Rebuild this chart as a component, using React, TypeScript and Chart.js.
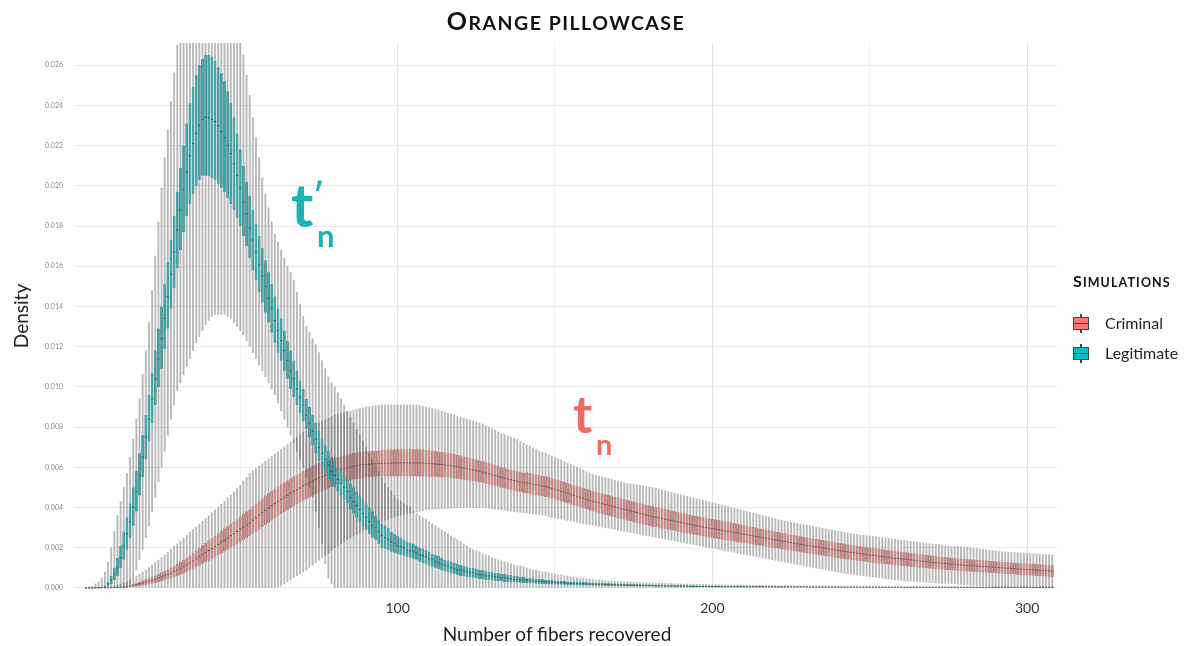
import React, { useEffect, useRef } from "react";
import { Chart, registerables } from "chart.js";

Chart.register(...registerables);

// Number of fibers recovered: one boxplot per integer starting at FIRST_FIBER
const FIRST_FIBER = 1;
// All density values below are written in units of 1e-4
const DENSITY_UNIT = 1e-4;

const Y_TICKS = [0, 0.002, 0.004, 0.006, 0.008, 0.01, 0.012, 0.014, 0.016, 0.018, 0.02, 0.022, 0.024, 0.026];
const X_TICKS = [50, 100, 150, 200, 250, 300];
const X_LABELLED = [100, 200, 300];

const SERIES_NAMES = ["Criminal", "Legitimate"];

// ---------- Legitimate (t'n) ----------
const legitimateLow = [
  0,0,0,0,0,0,0,0,0,0,
  0,0,0,0,2,5,9,14,19,25,
  31,38,45,53,60,68,76,84,91,98,
  102,106,110,114,118,122,125,128,131,133,
  135,136,136,136,136,135,134,132,130,128,
  126,123,120,117,114,111,108,105,102,99,
  96,92,88,84,80,76,72,68,64,60,
  55,50,45,38,30,22,12,5,2,0,
  0,0,0,0,0,0,0,0,0,0, 0,0,0,0,0,0,0,0,0,0,
  0,0,0,0,0,0,0,0,0,0, 0,0,0,0,0,0,0,0,0,0,
  0,0,0,0,0,0,0,0,0,0, 0,0,0,0,0,0,0,0,0,0,
  0,0,0,0,0,0,0,0,0,0, 0,0,0,0,0,0,0,0,0,0,
  0,0,0,0,0,0,0,0,0,0, 0,0,0,0,0,0,0,0,0,0,
  0,0,0,0,0,0,0,0,0,0, 0,0,0,0,0,0,0,0,0,0,
  0,0,0,0,0,0,0,0,0,0, 0,0,0,0,0,0,0,0,0,0,
  0,0,0,0,0,0,0,0,0,0, 0,0,0,0,0,0,0,0,0,0,
  0,0,0,0,0,0,0,0,0,0, 0,0,0,0,0,0,0,0,0,0,
  0,0,0,0,0,0,0,0,0,0, 0,0,0,0,0,0,0,0,0,0,
  0,0,0,0,0,0,0,0,0,0, 0,0,0,0,0,0,0,0,0,0,
  0,0,0,0,0,0,0,0,
];

const legitimateQ1 = [
  0,0,0,0,0.1,0.2,0.5,1,2,4,
  6,10,14,19,25,31,38,46,55,64,
  73,82,91,100,109,119,129,139,149,159,
  168,177,185,191,196,200,203,205,205,205,
  204,203,201,199,197,194,191,188,184,180,
  175,170,164,158,153,147,142,137,132,127,
  122,117,113,108,104,99,95,91,87,83,
  79,75,71,67,63,60,57,54,52,50,
  48,46,44,42,39,37,35,33,31,29,
  27,25,24,22,20,19.5,19,18,17.5,17,
  16.5,16,15.5,15,14.5,14,13,12.5,12,11,
  10.5,10,9.5,9,8.5,8,7.5,7,6.5,6,
  6,5.5,5.5,5,5,4.5,4.5,4,4,4,
  3.5,3.5,3.5,3,3,3,3,2.8,2.6,2.5,
  2.5,2.4,2.3,2.2,2.1,2,2,1.9,1.8,1.8,
  1.7,1.7,1.6,1.6,1.5,1.5,1.5,1.4,1.4,1.3,
  1.3,1.3,1.2,1.2,1.2,1.1,1.1,1.1,1,1,
  1,1,0.9,0.9,0.9,0.9,0.8,0.8,0.8,0.8,
  0.8,0.7,0.7,0.7,0.7,0.7,0.6,0.6,0.6,0.6,
  0.6,0.6,0.5,0.5,0.5,0.5,0.5,0.5,0.5,0.5,
  0.45,0.45,0.45,0.45,0.45,0.45,0.45,0.45,0.45,0.45,
  0.4,0.4,0.4,0.4,0.4,0.4,0.4,0.4,0.4,0.4,
  0.4,0.4,0.4,0.4,0.4,0.4,0.4,0.4,0.4,0.4,
  0.35,0.35,0.35,0.35,0.35,0.35,0.35,0.35,0.35,0.35,
  0.3,0.3,0.3,0.3,0.3,0.3,0.3,0.3,0.3,0.3,
  0.3,0.3,0.3,0.3,0.3,0.3,0.3,0.3,0.3,0.3,
  0.25,0.25,0.25,0.25,0.25,0.25,0.25,0.25,0.25,0.25,
  0.25,0.25,0.25,0.25,0.25,0.25,0.25,0.25,0.25,0.25,
  0.2,0.2,0.2,0.2,0.2,0.2,0.2,0.2,0.2,0.2,
  0.2,0.2,0.2,0.2,0.2,0.2,0.2,0.2,0.2,0.2,
  0.15,0.15,0.15,0.15,0.15,0.15,0.15,0.15,
];

const legitimateMedian = [
  0,0,0,0,0.1,0.3,0.7,2,4,7,
  10,15,21,27,33,40,48,56,65,75,
  84,94,104,114,124,134,145,156,167,178,
  188,198,207,215,221,226,230,233,234,234,
  233,232,230,227,224,220,216,211,205,199,
  192,186,179,173,167,161,155,150,144,139,
  133,128,123,118,113,108,104,99,95,91,
  86,82,78,74,70,67,64,61,58,56,
  54,52,50,48,45,43,41,39,37,35,
  33,31,30,28,26,25,24,23,22,21,
  20.5,20,19,18.5,18,17.5,16.5,16,15.5,14.5,
  14,13,12.5,12,11.5,11,10,9.5,9,9,
  8.5,8,7.5,7.5,7,6.5,6.5,6,6,6,
  5.5,5.5,5,5,4.8,4.6,4.4,4.2,4,4,
  3.8,3.6,3.5,3.4,3.3,3.2,3,3,2.9,2.7,
  2.6,2.6,2.5,2.4,2.3,2.2,2.2,2.1,2.1,2,
  2,1.9,1.9,1.8,1.8,1.7,1.7,1.6,1.6,1.5,
  1.5,1.5,1.4,1.4,1.4,1.3,1.3,1.2,1.2,1.2,
  1.2,1.1,1.1,1.1,1,1,1,0.9,0.9,0.9,
  0.9,0.9,0.8,0.8,0.8,0.8,0.8,0.8,0.7,0.7,
  0.7,0.7,0.7,0.65,0.65,0.65,0.65,0.65,0.6,0.6,
  0.6,0.6,0.6,0.6,0.6,0.6,0.6,0.6,0.6,0.6,
  0.55,0.55,0.55,0.55,0.55,0.55,0.55,0.55,0.55,0.55,
  0.45,0.45,0.45,0.45,0.45,0.45,0.45,0.45,0.45,0.45,
  0.4,0.4,0.4,0.4,0.4,0.4,0.4,0.4,0.4,0.4,
  0.35,0.35,0.35,0.35,0.35,0.35,0.35,0.35,0.35,0.35,
  0.3,0.3,0.3,0.3,0.3,0.3,0.3,0.3,0.3,0.3,
  0.3,0.3,0.3,0.3,0.3,0.3,0.3,0.3,0.3,0.3,
  0.25,0.25,0.25,0.25,0.25,0.25,0.25,0.25,0.25,0.25,
  0.25,0.25,0.25,0.25,0.25,0.25,0.25,0.25,0.25,0.25,
  0.22,0.22,0.22,0.22,0.22,0.22,0.22,0.22,
];

const legitimateQ3 = [
  0,0,0,0.1,0.2,0.5,1,3,6,10,
  15,21,28,35,42,50,58,67,76,86,
  96,107,118,129,140,151,162,173,185,197,
  209,220,231,241,249,255,260,263,265,265,
  264,262,259,256,252,247,241,234,226,218,
  210,202,195,188,181,175,169,163,157,151,
  145,139,134,128,123,118,113,108,103,99,
  94,90,86,82,78,74,71,68,65,63,
  60,58,56,54,52,50,48,46,44,42,
  40,38,36,34,32,31,30,28,27,26,
  25,24,23,22.5,22,21,20,19.5,19,18,
  17,16.5,16,15,14,13.5,13,12.5,12,11.5,
  11,10.5,10,10,9.5,9,9,8.5,8,8,
  7.5,7.5,7,7,6.5,6.5,6,6,5.5,5.5,
  5,5,5,4.5,4.5,4.5,4,4,4,3.5,
  3.5,3.5,3.5,3,3,3,3,3,2.8,2.8,
  2.6,2.6,2.5,2.5,2.4,2.4,2.3,2.2,2.2,2.1,
  2,2,2,1.9,1.9,1.8,1.8,1.7,1.7,1.6,
  1.6,1.5,1.5,1.5,1.4,1.4,1.4,1.3,1.3,1.3,
  1.2,1.2,1.2,1.2,1.1,1.1,1.1,1.1,1,1,
  1,1,1,0.9,0.9,0.9,0.9,0.9,0.9,0.8,
  0.8,0.8,0.8,0.8,0.8,0.8,0.7,0.7,0.7,0.7,
  0.7,0.7,0.7,0.7,0.6,0.6,0.6,0.6,0.6,0.6,
  0.6,0.6,0.6,0.5,0.5,0.5,0.5,0.5,0.5,0.5,
  0.5,0.5,0.5,0.5,0.5,0.5,0.4,0.4,0.4,0.4,
  0.4,0.4,0.4,0.4,0.4,0.4,0.4,0.4,0.4,0.4,
  0.4,0.4,0.4,0.4,0.4,0.4,0.4,0.4,0.35,0.35,
  0.35,0.35,0.35,0.35,0.35,0.35,0.35,0.35,0.35,0.35,
  0.35,0.35,0.35,0.35,0.3,0.3,0.3,0.3,0.3,0.3,
  0.3,0.3,0.3,0.3,0.3,0.3,0.3,0.3,0.3,0.3,
  0.3,0.3,0.3,0.3,0.3,0.3,0.3,0.3,
];

const legitimateHigh = [
  0.3,0.5,1,2,3,5,8,13,20,28,
  36,43,50,57,65,74,84,94,106,118,
  132,148,165,182,199,214,228,242,256,270,
  284,296,306,314,320,324,326,327,326,324,
  322,318,313,307,300,293,287,282,278,274,
  265,255,245,234,224,214,204,196,189,182,
  176,172,168,164,160,157,153,147,141,135,
  130,127,124,121,117,113,109,105,102,100,
  97,94,91,88,85,82,79,76,73,70,
  67,64,61,58,55,52,50,48,46,44,
  43,42,41,40,38,37,36,35,34,33,
  32,31,30,29,28,27,26,25,24,23,
  22,21,20,19,18.5,18,17,16.5,16,15,
  14.5,14,13.5,13,12.5,12,11.5,11,11,10.5,
  10,9.5,9,9,8.5,8,8,7.5,7,7,
  6.5,6.5,6,6,5.5,5.5,5,5,4.8,4.6,
  4.4,4.2,4,4,3.8,3.6,3.5,3.4,3.3,3.2,
  3.1,3,3,2.9,2.8,2.8,2.7,2.6,2.6,2.5,
  2.5,2.4,2.4,2.3,2.3,2.2,2.2,2.1,2.1,2,
  2,2,1.9,1.9,1.9,1.8,1.8,1.8,1.7,1.7,
  1.7,1.7,1.6,1.6,1.6,1.6,1.5,1.5,1.5,1.5,
  1.4,1.4,1.4,1.4,1.3,1.3,1.3,1.3,1.3,1.2,
  1.2,1.2,1.2,1.2,1.1,1.1,1.1,1.1,1.1,1.1,
  1,1,1,1,1,1,1,1,0.9,0.9,
  0.9,0.9,0.9,0.9,0.9,0.9,0.9,0.9,0.9,0.9,
  0.9,0.9,0.85,0.85,0.85,0.85,0.85,0.85,0.8,0.8,
  0.8,0.8,0.8,0.8,0.8,0.8,0.8,0.8,0.8,0.8,
  0.8,0.8,0.75,0.75,0.75,0.75,0.75,0.75,0.75,0.75,
  0.7,0.7,0.7,0.7,0.7,0.7,0.7,0.7,0.7,0.7,
  0.7,0.7,0.7,0.7,0.65,0.65,0.65,0.65,0.65,0.65,
  0.6,0.6,0.6,0.6,0.6,0.6,0.6,0.6,
];

// ---------- Criminal (tn) ----------
const criminalLow = [
  0,0,0,0,0,0,0,0,0,0, 0,0,0,0,0,0,0,0,0,0,
  0,0,0,0,0,0,0,0,0,0, 0,0,0,0,0,0,0,0,0,0,
  0,0,0,0,0,0,0,0,0,0, 0,0,0,0,0,0,0,0,0,0,
  0.2,0.5,1,2,3,4,5,6,7,8,
  9,10.2,11.4,12.6,13.8,15,16.2,17.4,18.6,20,
  21,22,23,24,25,25.8,26.6,27.4,28.2,29,
  29.8,30.6,31.4,32.2,33,33.6,34.2,34.8,35.4,36,
  36.3,36.6,36.9,37.2,37.5,37.8,38.1,38.4,38.7,39,
  39.1,39.2,39.3,39.4,39.5,39.6,39.7,39.8,39.9,40,
  40,40,40,40,40,40,40,39.8,39.6,39.4,
  39.2,39,38.8,38.6,38.4,38.2,38,37.8,37.6,37.4,
  37.2,37,36.8,36.6,36.4,36.2,36,35.5,35.1,34.8,
  34.5,34.2,33.9,33.6,33.3,33,32.7,32.4,32.1,31.8,
  31.5,31.2,30.9,30.6,30.3,30,29.7,29.4,29.1,28.8,
  28.5,28.2,27.9,27.6,27.3,27,26.7,26.4,26.1,25.8,
  25.5,25.2,24.9,24.6,24.3,24,23.7,23.4,23.1,22.8,
  22.5,22.2,21.9,21.6,21.3,21,20.7,20.4,20.1,19.8,
  19.5,19.2,18.9,18.6,18.3,18,17.7,17.4,17.1,16.8,
  16.5,16.2,15.9,15.6,15.3,15,14.7,14.4,14.1,13.8,
  13.5,13.2,12.9,12.6,12.3,12,11.7,11.4,11.1,10.8,
  10.5,10.2,9.9,9.6,9.3,9,8.7,8.4,8.1,7.8,
  7.5,7.3,7.1,6.9,6.7,6.5,6.3,6.1,5.9,5.7,
  5.5,5.3,5.1,4.9,4.7,4.5,4.3,4.1,3.9,3.7,
  3.6,3.5,3.4,3.3,3.2,3.1,3,2.9,2.8,2.7,
  2.6,2.5,2.4,2.3,2.2,2.1,2,1.9,1.8,1.7,
  1.6,1.5,1.4,1.3,1.2,1.1,1,0.9,0.8,0.7,
  0.7,0.6,0.6,0.5,0.5,0.5,0.4,0.4,0.4,0.3,
  0.3,0.3,0.3,0.2,0.2,0.2,0.2,0.2,
];

const criminalQ1 = [
  0,0,0,0,0,0,0,0.02,0.05,0.1,
  0.15,0.2,0.3,0.4,0.5,0.6,0.8,1,1.2,1.5,
  1.8,2.1,2.5,3,3.4,3.8,4.3,4.8,5.4,6,
  6.6,7.2,7.9,8.7,9.5,10.3,11.2,12,12.8,13.6,
  14.5,15.4,16.3,17.2,18.1,19,19.9,20.8,21.8,22.8,
  23.8,24.8,25.8,26.9,28,29.1,30.2,31.3,32.4,33.5,
  34.6,35.7,36.8,37.8,38.8,39.8,40.7,41.6,42.5,43.4,
  44.2,45,45.8,46.6,47.4,48.1,48.8,49.5,50.2,50.8,
  51.4,52,52.5,53,53.5,53.9,54.2,54.5,54.8,55,
  55.2,55.3,55.4,55.5,55.5,55.5,55.5,55.5,55.5,55.5,
  55.5,55.5,55.5,55.5,55.5,55.5,55.5,55.4,55.4,55.3,
  55.3,55.2,55.2,55.1,55,54.9,54.7,54.5,54.3,54.1,
  53.9,53.7,53.5,53.2,52.9,52.6,52.3,52,51.6,51.2,
  50.8,50.4,50,49.6,49.2,48.8,48.4,48,47.7,47.4,
  47.1,46.8,46.5,46.2,45.9,45.6,45.3,45,44.6,44.1,
  43.6,43.1,42.6,42.1,41.6,41.1,40.6,40.1,39.6,39.1,
  38.6,38.1,37.6,37.2,36.8,36.4,36,35.6,35.2,34.8,
  34.4,34,33.6,33.2,32.8,32.4,32,31.6,31.2,30.8,
  30.5,30.2,29.9,29.6,29.3,29,28.7,28.4,28.1,27.8,
  27.5,27.2,26.9,26.6,26.3,26,25.7,25.4,25.1,24.8,
  24.6,24.3,24.1,23.8,23.6,23.3,23.1,22.8,22.6,22.3,
  22.1,21.8,21.6,21.3,21.1,20.8,20.6,20.3,20.1,19.8,
  19.6,19.3,19.1,18.8,18.6,18.3,18.1,17.8,17.6,17.3,
  17.1,16.8,16.6,16.3,16.1,15.8,15.6,15.3,15.1,14.8,
  14.6,14.4,14.2,14,13.8,13.6,13.4,13.2,13,12.8,
  12.6,12.4,12.2,12,11.9,11.7,11.5,11.3,11.2,11,
  10.9,10.7,10.6,10.4,10.3,10.1,10,9.8,9.7,9.5,
  9.4,9.3,9.1,9,8.9,8.8,8.7,8.5,8.4,8.3,
  8.2,8.1,8,7.9,7.8,7.7,7.6,7.5,7.4,7.3,
  7.2,7.1,7,6.9,6.8,6.7,6.6,6.5,6.4,6.3,
  6.2,6.1,6,5.9,5.8,5.7,5.6,5.5,
];

const criminalMedian = [
  0,0,0,0,0,0.02,0.05,0.08,0.12,0.2,
  0.27,0.35,0.5,0.7,1,1.3,1.6,2,2.4,3,
  3.4,3.8,4.3,5,5.5,6.1,6.7,7.4,8.2,9,
  9.8,10.6,11.4,12.4,13.5,14.5,15.6,16.6,17.6,18.6,
  19.6,20.7,21.7,22.8,23.8,24.9,26,27,28.1,29.2,
  30.3,31.4,32.4,33.7,35,36.2,37.4,38.6,39.8,40.9,
  42,43.1,44.1,45.1,46.1,47.1,48,48.9,49.7,50.7,
  51.6,52.4,53.2,54,54.7,55.3,56,56.6,57.2,57.8,
  58.3,58.8,59.2,59.7,60.1,60.5,60.8,61,61.3,61.5,
  61.6,61.7,61.8,61.9,62,62,62.1,62.1,62.2,62.2,
  62.2,62.2,62.2,62.2,62.2,62.2,62.2,62.1,62,61.9,
  61.8,61.6,61.5,61.4,61.2,61,60.8,60.5,60.2,59.9,
  59.6,59.3,59,58.7,58.3,58,57.6,57.2,56.8,56.3,
  55.9,55.4,55,54.6,54.2,53.8,53.4,53,52.7,52.3,
  52.3,51.9,51.6,51.3,51,50.7,50.4,50.1,49.6,49.1,
  48.6,48.1,47.6,47.1,46.6,46.1,45.6,45.1,44.6,44.1,
  43.6,43.1,42.7,42.3,41.9,41.5,41.1,40.7,40.3,39.9,
  39.5,39.1,38.7,38.3,37.9,37.5,37.1,36.7,36.3,35.9,
  35.5,35.2,34.9,34.5,34.2,33.9,33.6,33.2,32.9,32.6,
  32.3,32,31.6,31.3,31,30.7,30.4,30.1,29.8,29.5,
  29.3,29,28.7,28.4,28.2,27.9,27.6,27.3,27.1,26.8,
  26.5,26.2,25.9,25.6,25.3,25,24.8,24.5,24.2,23.9,
  23.7,23.4,23.1,22.8,22.6,22.3,22,21.7,21.5,21.2,
  21,20.7,20.5,20.2,19.9,19.7,19.4,19.1,18.9,18.6,
  18.4,18.2,18,17.7,17.5,17.3,17.1,16.9,16.6,16.4,
  16.2,16,15.8,15.6,15.4,15.2,15,14.8,14.7,14.5,
  14.3,14.1,14,13.8,13.6,13.4,13.3,13.1,12.9,12.7,
  12.6,12.5,12.3,12.2,12,11.9,11.8,11.6,11.5,11.3,
  11.2,11.1,11,10.9,10.8,10.7,10.6,10.5,10.4,10.3,
  10.2,10,9.9,9.8,9.7,9.6,9.5,9.4,9.3,9.2,
  9.1,9,8.9,8.8,8.7,8.6,8.5,8.4,
];

const criminalQ3 = [
  0,0,0,0,0,0.05,0.1,0.15,0.2,0.3,
  0.4,0.5,0.7,1,1.5,2,2.5,3,3.7,4.5,
  5,5.5,6.2,7,7.7,8.4,9.2,10,11,12,
  13,14,15,16.2,17.5,18.7,20,21.2,22.4,23.6,
  24.8,26,27.2,28.4,29.6,30.8,32,33.2,34.4,35.6,
  36.8,38,39,40.5,42,43.3,44.6,46,47.2,48.3,
  49.4,50.5,51.5,52.5,53.5,54.5,55.4,56.2,57,58,
  59,59.8,60.6,61.4,62,62.6,63.2,63.8,64.3,64.8,
  65.2,65.6,66,66.4,66.8,67.1,67.4,67.6,67.8,68,
  68.1,68.2,68.3,68.4,68.5,68.6,68.7,68.8,68.9,69,
  69,69,69,69,69,69,68.9,68.8,68.7,68.5,
  68.3,68.1,67.9,67.7,67.5,67.2,66.9,66.6,66.2,65.8,
  65.4,65,64.6,64.2,63.8,63.4,63,62.5,62,61.5,
  61,60.5,60,59.6,59.2,58.8,58.4,58,57.7,57.3,
  57.5,57.1,56.8,56.4,56.1,55.8,55.5,55.2,54.7,54.2,
  53.7,53.2,52.7,52.2,51.7,51.2,50.7,50.2,49.7,49.2,
  48.7,48.2,47.8,47.4,47,46.6,46.2,45.8,45.4,45,
  44.6,44.2,43.8,43.4,43,42.6,42.2,41.8,41.4,41,
  40.6,40.2,39.9,39.5,39.2,38.8,38.5,38.1,37.8,37.4,
  37.1,36.8,36.4,36.1,35.8,35.5,35.2,34.9,34.6,34.3,
  34,33.7,33.4,33.1,32.8,32.5,32.2,31.9,31.6,31.3,
  31,30.6,30.3,30,29.6,29.3,29,28.7,28.4,28.1,
  27.8,27.5,27.2,26.9,26.6,26.3,26,25.7,25.5,25.2,
  24.9,24.6,24.4,24.1,23.8,23.6,23.3,23,22.8,22.5,
  22.3,22,21.8,21.5,21.3,21,20.8,20.6,20.3,20.1,
  19.9,19.6,19.4,19.2,19,18.8,18.6,18.4,18.2,18,
  17.8,17.6,17.4,17.2,17,16.8,16.6,16.4,16.2,16,
  15.9,15.7,15.5,15.4,15.2,15,14.9,14.7,14.6,14.4,
  14.3,14.2,14.1,14,13.9,13.8,13.7,13.5,13.4,13.3,
  13.2,13,12.9,12.8,12.7,12.6,12.5,12.4,12.3,12.2,
  12.1,12,11.9,11.8,11.7,11.6,11.5,11.4,
];

const criminalHigh = [
  0,0,0,0.1,0.2,0.3,0.4,0.6,0.8,1,
  1.4,1.9,2.5,3.2,4,4.9,5.8,6.8,7.9,9,
  10.2,11.4,12.6,13.8,15,16.4,17.8,19.2,20.6,22,
  23.4,24.8,26.2,27.6,29,30.4,31.8,33.2,34.6,36,
  37.4,38.8,40.2,41.6,43,44.6,46.2,47.8,49.4,51,
  53,55,57,58.2,59.4,60.6,61.8,63,64.2,65.4,
  66.6,67.8,69,70.2,71.4,72.6,73.8,75,76.2,77.4,
  78.5,79.5,80.5,81.3,82,82.8,83.6,84.4,85.2,86,
  86.4,86.8,87.2,87.6,88,88.4,88.8,89.2,89.6,90,
  90.2,90.4,90.6,90.8,91,91,91,91,91,91,
  91,91,91,91,91,91,90.8,90.4,90,89.6,
  89.2,88.8,88.4,88,87.5,87,86.5,86,85.5,85,
  84.5,84,83.5,83,82.5,82,81.5,80.8,80,79.2,
  78.4,77.6,76.8,76.2,75.6,75,74.4,73.7,72.9,72.1,
  71.3,70.5,69.7,68.9,68.1,67.5,67,66.3,65.6,64.9,
  64.2,63.5,62.8,62.1,61.4,60.7,60,59.3,58.6,57.9,
  57.2,56.6,56,55.6,55.2,54.8,54.4,54,53.6,53.2,
  52.8,52.4,52,51.8,51.5,51.3,51,50.8,50.5,50.2,
  49.9,49.5,49.1,48.7,48.3,47.9,47.5,47.1,46.7,46.3,
  45.9,45.5,45.1,44.7,44.3,44,43.6,43.2,42.8,42.4,
  42,41.6,41.2,40.8,40.4,40,39.6,39.2,38.8,38.4,
  38,37.6,37.2,36.8,36.4,36,35.6,35.2,34.8,34.4,
  34,33.6,33.3,33,32.7,32.4,32.1,31.8,31.5,31.2,
  30.9,30.6,30.3,30,29.7,29.4,29.1,28.8,28.5,28.2,
  27.9,27.6,27.3,27,26.8,26.6,26.4,26.2,26,25.8,
  25.6,25.4,25.2,25,24.8,24.6,24.4,24.2,24,23.8,
  23.6,23.4,23.2,23,22.8,22.6,22.4,22.2,22,21.8,
  21.6,21.4,21.2,21,20.9,20.8,20.7,20.6,20.5,20.4,
  20.2,20,19.8,19.6,19.4,19.2,19,18.8,18.6,18.4,
  18.2,18,17.9,17.8,17.7,17.6,17.5,17.4,17.3,17.2,
  17.1,17,16.9,16.8,16.7,16.6,16.5,16.4,
];

const COLORS = {
  whisker: "rgba(85,85,85,0.42)",
  criminalBox: "#d08c88",
  criminalEdge: "rgba(90,50,50,0.55)",
  legitimateBox: "#3fa8aa",
  legitimateEdge: "rgba(20,70,70,0.55)",
  median: "rgba(40,40,40,0.55)",
  criminalKey: "#F8766D",
  legitimateKey: "#00BFC4",
  criminalText: "#ee6b62",
  legitimateText: "#19b4b8",
};

const FONT = "Lato, 'Open Sans', sans-serif";

function abs(s: React.CSSProperties): React.CSSProperties {
  return { position: "absolute", ...s };
}

function KeyIcon(props: { top: number; fill: string }) {
  return (
    <div style={abs({ left: 1073, top: props.top, width: 16, height: 19 })}>
      <div style={abs({ left: 7, top: 0, width: 1.5, height: 19, background: "#444" })} />
      <div
        style={abs({
          left: 0,
          top: 3,
          width: 14,
          height: 11,
          background: props.fill,
          border: "1px solid #444",
        })}
      />
      <div style={abs({ left: 1, top: 8.5, width: 14, height: 1.2, background: "#444" })} />
    </div>
  );
}

export default function App() {
  const canvasRef = useRef<HTMLCanvasElement | null>(null);

  useEffect(() => {
    if (!canvasRef.current) return;
    const fibers = legitimateQ3.map((_, i) => FIRST_FIBER + i);
    const span = (lo: number[], hi: number[]) =>
      fibers.map((x, i) => ({ x, y: [lo[i] * DENSITY_UNIT, hi[i] * DENSITY_UNIT] }));
    const points = (arr: number[]) => fibers.map((x, i) => ({ x, y: arr[i] * DENSITY_UNIT }));

    const whiskerDs = (label: string, lo: number[], hi: number[], order: number) => ({
      type: "bar",
      label,
      data: span(lo, hi),
      backgroundColor: COLORS.whisker,
      borderWidth: 0,
      barThickness: 1.2,
      grouped: false,
      order,
    });
    const boxDs = (label: string, q1: number[], q3: number[], color: string, edge: string, order: number) => ({
      type: "bar",
      label,
      data: span(q1, q3),
      backgroundColor: color,
      borderColor: edge,
      borderWidth: { left: 0.5, right: 0.5, top: 0, bottom: 0 },
      borderSkipped: false,
      barThickness: 2.3,
      grouped: false,
      order,
    });
    const medDs = (label: string, med: number[], order: number) => ({
      type: "line",
      label,
      data: points(med),
      showLine: false,
      pointStyle: "line",
      pointRadius: 1.1,
      pointBorderWidth: 1,
      pointBorderColor: COLORS.median,
      pointBackgroundColor: COLORS.median,
      order,
    });

    const config: any = {
      type: "bar",
      data: {
        datasets: [
          whiskerDs(SERIES_NAMES[0] + " whiskers", criminalLow, criminalHigh, 6),
          boxDs(SERIES_NAMES[0], criminalQ1, criminalQ3, COLORS.criminalBox, COLORS.criminalEdge, 5),
          medDs(SERIES_NAMES[0] + " median", criminalMedian, 4),
          whiskerDs(SERIES_NAMES[1] + " whiskers", legitimateLow, legitimateHigh, 3),
          boxDs(SERIES_NAMES[1], legitimateQ1, legitimateQ3, COLORS.legitimateBox, COLORS.legitimateEdge, 2),
          medDs(SERIES_NAMES[1] + " median", legitimateMedian, 1),
        ],
      },
      options: {
        responsive: false,
        animation: false,
        devicePixelRatio: 1,
        layout: { padding: { left: 30, right: 143, top: 43, bottom: 24 } },
        plugins: {
          legend: { display: false },
          tooltip: { enabled: false },
          title: { display: false },
        },
        scales: {
          x: {
            type: "linear",
            min: -2.5,
            max: 309.5,
            offset: false,
            afterBuildTicks: (s: any) => {
              s.ticks = X_TICKS.map((v) => ({ value: v }));
            },
            afterFit: (s: any) => {
              s.height = 30;
            },
            ticks: {
              autoSkip: false,
              maxRotation: 0,
              padding: 8,
              color: "#333333",
              font: { family: FONT, size: 14 },
              callback: (v: any) => (X_LABELLED.includes(Number(v)) ? String(v) : ""),
            },
            grid: {
              offset: false,
              drawTicks: false,
              color: (ctx: any) =>
                ctx.tick && X_LABELLED.includes(ctx.tick.value) ? "#e4e4e4" : "#f3f3f3",
            },
            border: { display: false },
          },
          y: {
            type: "linear",
            min: -0.0002,
            max: 0.0271,
            afterBuildTicks: (s: any) => {
              s.ticks = Y_TICKS.map((v) => ({ value: v }));
            },
            afterFit: (s: any) => {
              s.width = 45;
            },
            ticks: {
              padding: 12,
              color: "#8a8a8a",
              font: { family: FONT, size: 7 },
              callback: (v: any) => Number(v).toFixed(3),
            },
            grid: { drawTicks: false, color: "#ebebeb" },
            border: { display: false },
          },
        },
      },
    };

    const chart = new Chart(canvasRef.current, config);
    return () => chart.destroy();
  }, []);

  return (
    <div
      style={{
        position: "fixed",
        left: 0,
        top: 0,
        width: 1200,
        height: 646,
        background: "#ffffff",
        overflow: "hidden",
        fontFamily: FONT,
      }}
    >
      <canvas ref={canvasRef} width={1200} height={646} style={abs({ left: 0, top: 0, width: 1200, height: 646 })} />

      <div
        style={abs({
          left: 75,
          width: 982,
          top: 8,
          textAlign: "center",
          fontWeight: 700,
          color: "#111",
          lineHeight: 1,
          whiteSpace: "nowrap",
          letterSpacing: 1.5,
        })}
      >
        <span style={{ fontSize: 25 }}>O</span>
        <span style={{ fontSize: 19.5 }}>RANGE PILLOWCASE</span>
      </div>

      <div
        style={abs({
          left: 357,
          width: 400,
          top: 624,
          textAlign: "center",
          fontSize: 19,
          color: "#222",
          lineHeight: 1,
          whiteSpace: "nowrap",
        })}
      >
        Number of fibers recovered
      </div>
      <div
        style={abs({
          left: -39,
          top: 306,
          width: 120,
          textAlign: "center",
          fontSize: 19,
          color: "#222",
          lineHeight: "20px",
          transform: "rotate(-90deg)",
          whiteSpace: "nowrap",
        })}
      >
        Density
      </div>

      <div
        style={abs({
          left: 1073,
          top: 273,
          fontWeight: 700,
          color: "#111",
          lineHeight: 1,
          whiteSpace: "nowrap",
          letterSpacing: 1.1,
        })}
      >
        <span style={{ fontSize: 16 }}>S</span>
        <span style={{ fontSize: 12.5 }}>IMULATIONS</span>
      </div>
      <KeyIcon top={314} fill={COLORS.criminalKey} />
      <div style={abs({ left: 1105, top: 313, fontSize: 16, color: "#222", lineHeight: "20px" })}>
        {SERIES_NAMES[0]}
      </div>
      <KeyIcon top={344} fill={COLORS.legitimateKey} />
      <div style={abs({ left: 1105, top: 343, fontSize: 16, color: "#222", lineHeight: "20px" })}>
        {SERIES_NAMES[1]}
      </div>

      <div style={abs({ left: 291, top: 174, fontSize: 60, fontWeight: 700, color: COLORS.legitimateText, lineHeight: 1 })}>t</div>
      <div style={abs({ left: 313, top: 179, fontSize: 32, fontWeight: 700, color: COLORS.legitimateText, lineHeight: 1 })}>′</div>
      <div style={abs({ left: 317, top: 220, fontSize: 31, fontWeight: 700, color: COLORS.legitimateText, lineHeight: 1 })}>n</div>

      <div style={abs({ left: 573, top: 387, fontSize: 52, fontWeight: 700, color: COLORS.criminalText, lineHeight: 1 })}>t</div>
      <div style={abs({ left: 596, top: 429, fontSize: 29, fontWeight: 700, color: COLORS.criminalText, lineHeight: 1 })}>n</div>
    </div>
  );
}
